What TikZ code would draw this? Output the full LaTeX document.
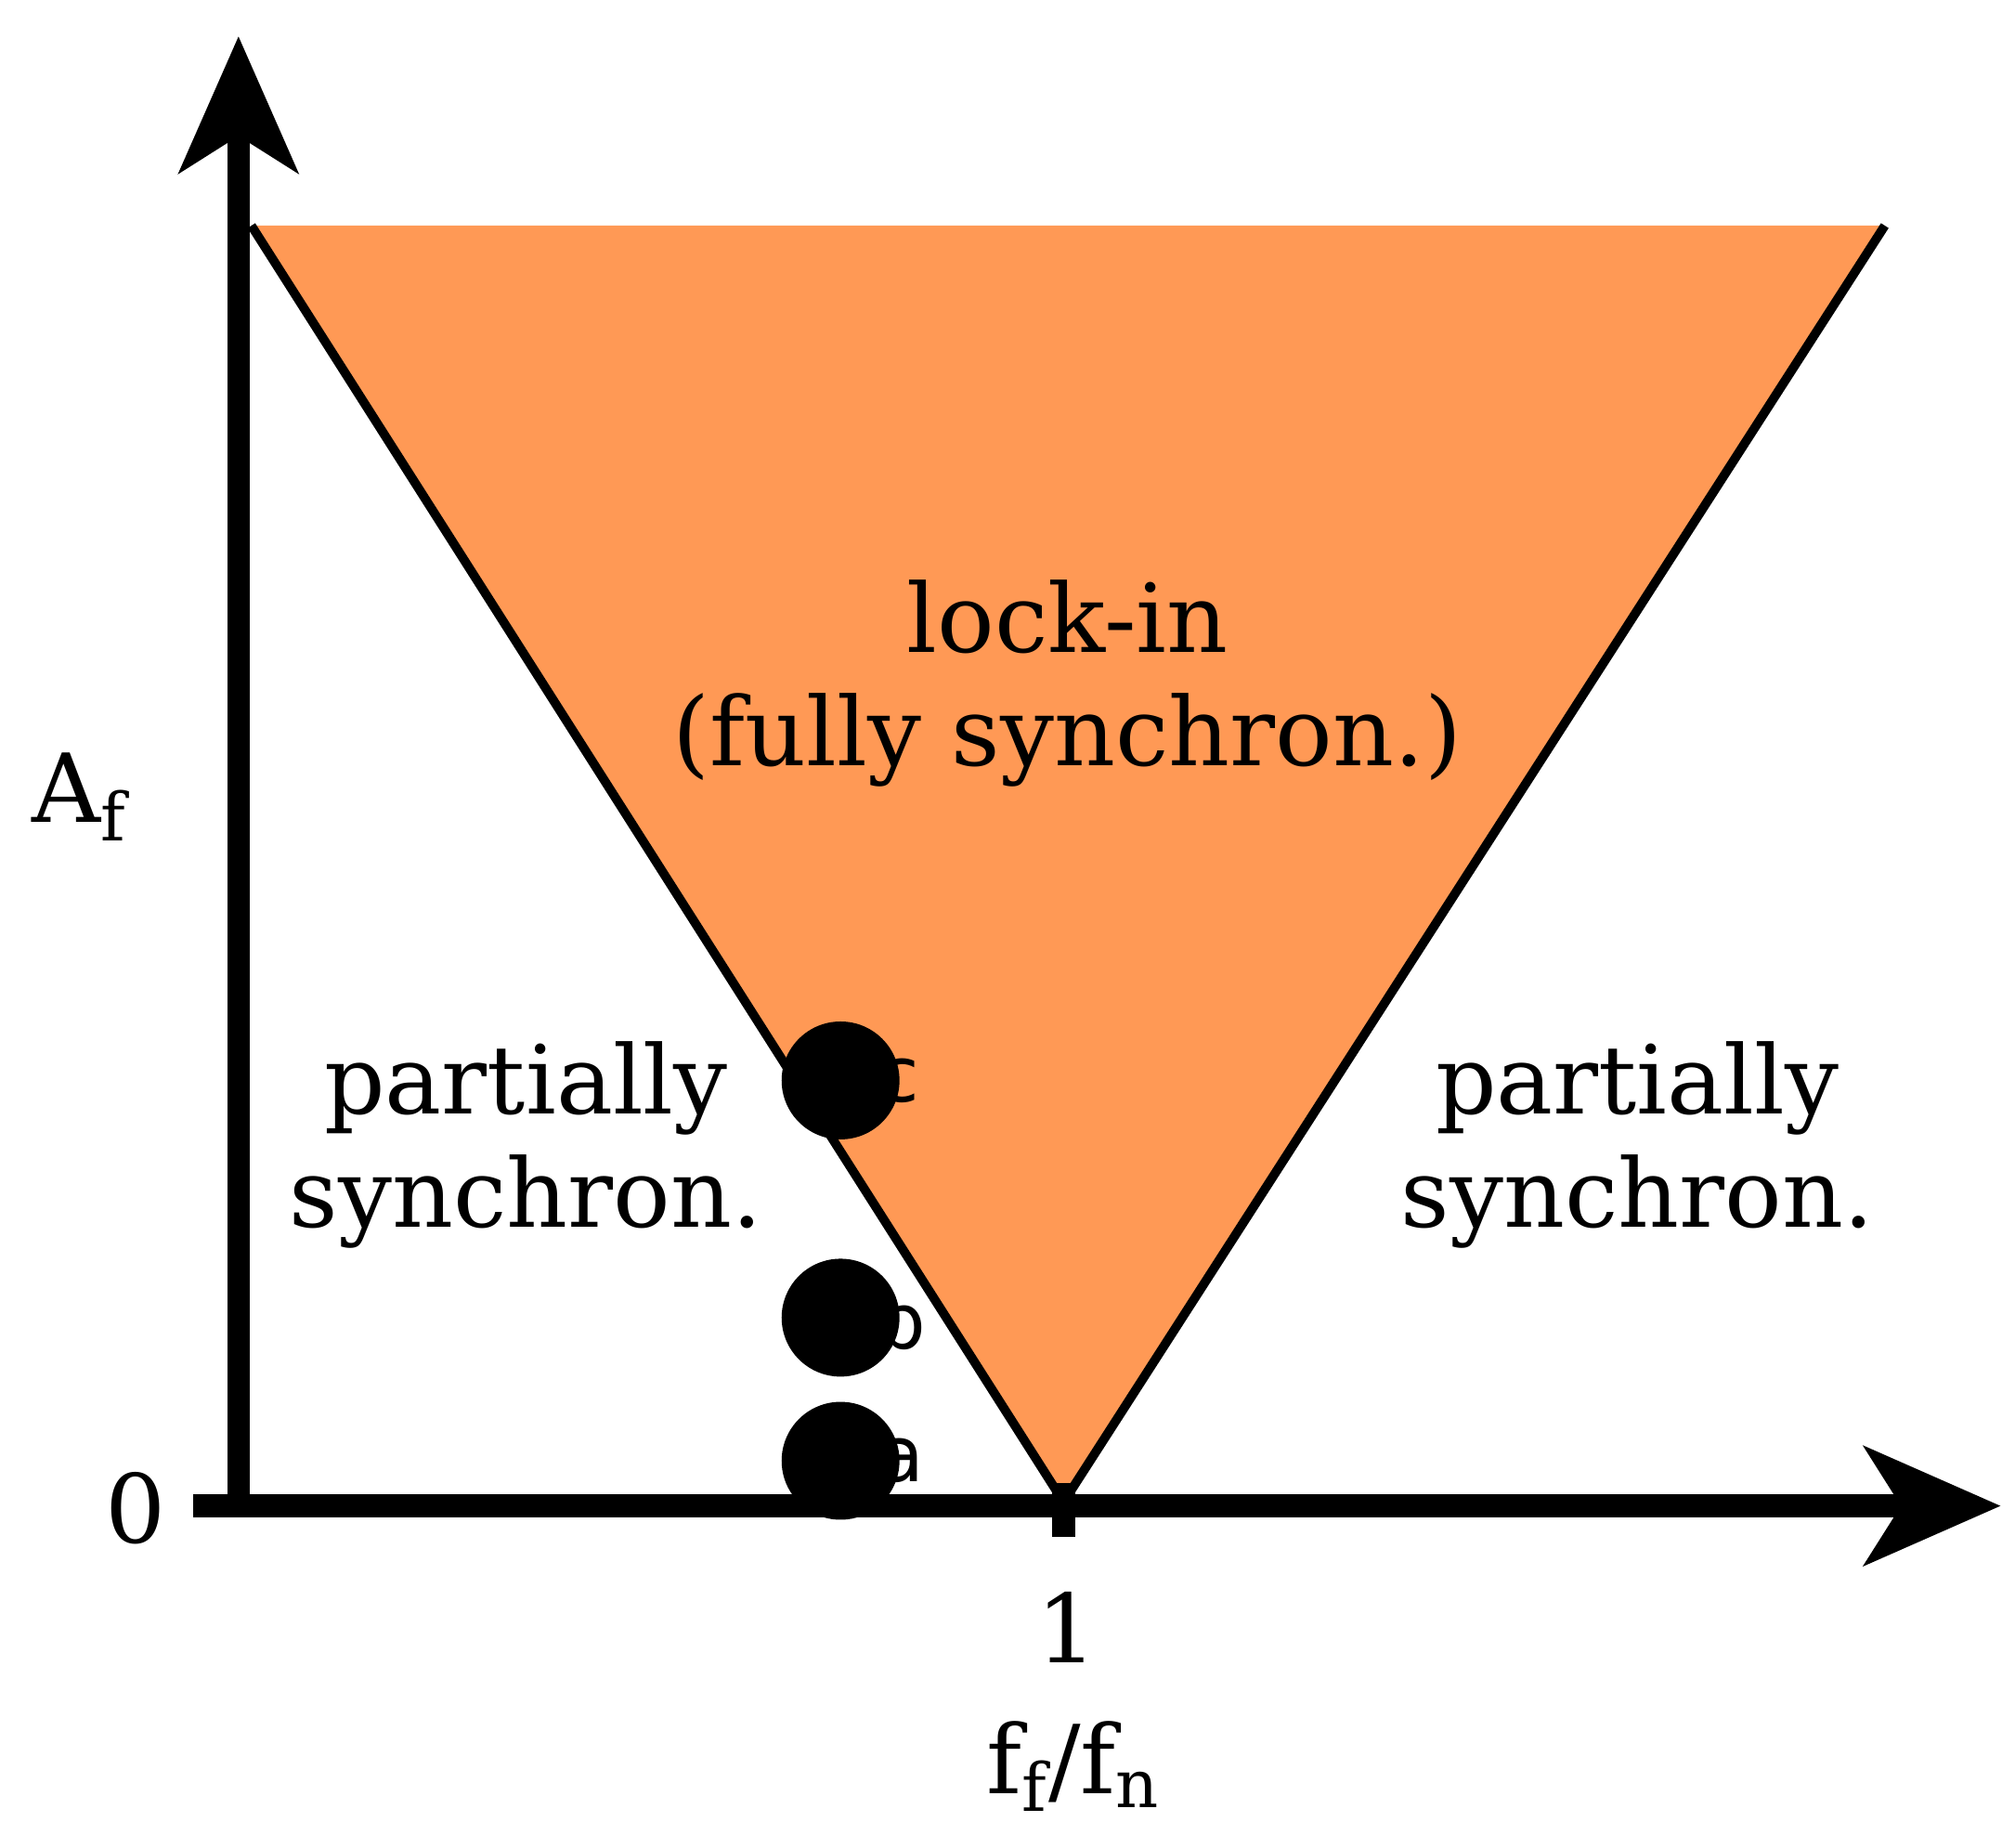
\documentclass[tikz,border=0pt]{standalone}
\usepackage{fontspec}
\setmainfont{DejaVu Serif}
\newfontfamily\lblfont{DejaVu Sans}
\usetikzlibrary{arrows.meta}
\begin{document}
\begin{tikzpicture}[x=0.01cm,y=-0.01cm,
  axis/.style={line width=5pt,-{Stealth[length=30pt,width=26pt,inset=8pt]}},
  big/.style={font=\fontsize{21}{25}\selectfont},
  dot/.style={circle,fill=black,inner sep=0pt,minimum size=26pt},
  dl/.style={font=\lblfont\fontsize{17}{20}\selectfont,anchor=west}]
\useasboundingbox (0,0) rectangle (1563,1433);
\fill[fill={rgb,255:red,255;green,153;blue,85}] (195,175) coordinate (tl) -- (1462,175) coordinate (tr) -- (825,1165) coordinate (bt) -- cycle;
\draw[line width=2pt] (tl) -- (bt) -- (tr);
\coordinate (o) at (185,1168);
\coordinate (ytip) at (185,28);
\coordinate (xs) at (150,1168);
\coordinate (xtip) at (1552,1168);
\draw[axis] (185,1171) -- (ytip);
\draw[axis] (xs) -- (xtip);
\draw[line width=5pt] (825,1150) coordinate (t1) -- (825,1192) coordinate (t2);
\node[big] (zero) at (105,1170) {0};
\node[big] (one) at (828,1262) {1};
\node[big] (xl) at (833,1370) {f\textsubscript{f}/f\textsubscript{n}};
\node[big] (yl) at (62,618) {A\textsubscript{f}};
\node[big,align=center] (lock) at (828,530) {lock-in\\(fully synchron.)};
\node[big,align=center] (pl) at (408,888) {partially\\synchron.};
\node[big,align=center] (pr) at (1270,888) {partially\\synchron.};
\node[dot] (c) at (652,838) {};
\node[dot] (b) at (652,1022) {};
\node[dot] (a) at (652,1133) {};
\node[dl] (cl) at (668,838) {c};
\node[dl] (bl) at (668,1024) {b};
\node[dl] (al) at (668,1133) {a};
\end{tikzpicture}
\end{document}
